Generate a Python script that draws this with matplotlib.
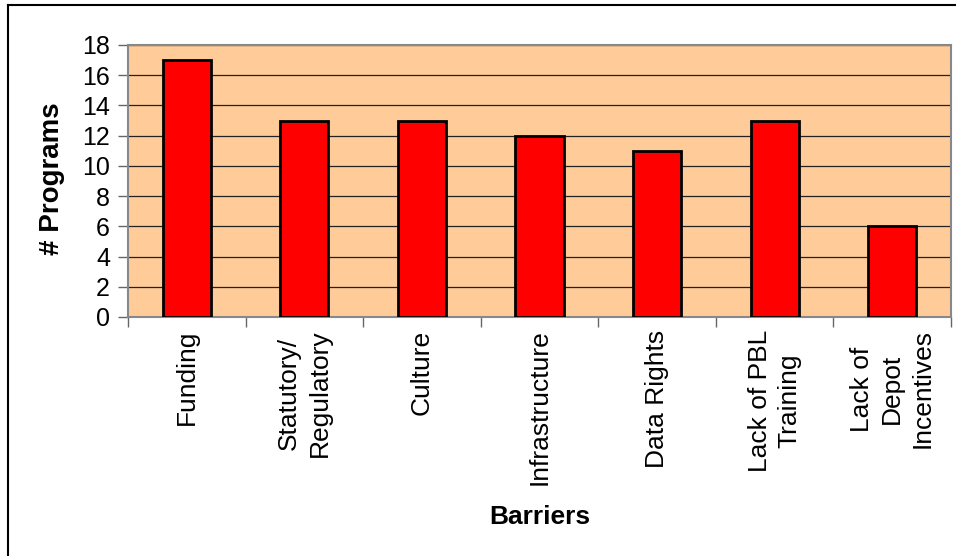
import matplotlib
matplotlib.use('Agg')
import matplotlib.pyplot as plt
from matplotlib.lines import Line2D
import numpy as np

plt.rcParams['font.family'] = ['Liberation Sans', 'DejaVu Sans']

# data
barriers = ['Funding', 'Statutory/\nRegulatory', 'Culture', 'Infrastructure',
            'Data Rights', 'Lack of PBL\nTraining', 'Lack of\nDepot\nIncentives']
programs = [17, 13, 13, 12, 11, 13, 6]
y_ticks = [0, 2, 4, 6, 8, 10, 12, 14, 16, 18]

fig = plt.figure(figsize=(9.56, 5.56), dpi=100)
ax = fig.add_axes([128 / 956, 1 - 317 / 556, (951 - 128) / 956, (317 - 45) / 556])

ax.set_facecolor('#FFCC99')
x = np.arange(len(barriers))
ax.bar(x, programs, width=0.41, color='#FF0000', edgecolor='black', linewidth=2, zorder=3)

ax.set_xlim(-0.5, len(barriers) - 0.5)
ax.set_ylim(0, 18)
ax.set_yticks(y_ticks)
ax.yaxis.grid(True, color='#222222', linewidth=0.9, zorder=1)
ax.set_axisbelow(True)

# category labels centred, tick marks at the boundaries
ax.set_xticks(x)
ax.set_xticklabels(barriers, rotation=90, ha='center', va='top', multialignment='center',
                   fontsize=19, linespacing=1.33)
ax.tick_params(axis='x', which='major', length=0, pad=9)
ax.set_xticks(np.arange(-0.5, len(barriers)), minor=True)
ax.tick_params(axis='x', which='minor', length=7, width=1, color='#666666', direction='out')
ax.tick_params(axis='y', length=7, width=1, color='#666666', labelsize=18, pad=6)

for s in ax.spines.values():
    s.set_color('#888888')
    s.set_linewidth(1.5)

ax.set_ylabel('# Programs', fontsize=20, fontweight='bold', va='center')
ax.yaxis.set_label_coords(-0.092, 0.51)
ax.set_xlabel('Barriers', fontsize=19, fontweight='bold')
ax.xaxis.set_label_coords(0.5, -0.69)

# outer chart border (only top and left visible)
fig.add_artist(Line2D([8 / 956, 8 / 956], [0, 1 - 5 / 556], transform=fig.transFigure, color='black', linewidth=1.5))
fig.add_artist(Line2D([8 / 956, 1], [1 - 5 / 556, 1 - 5 / 556], transform=fig.transFigure, color='black', linewidth=1.5))

plt.savefig('out.png', dpi=100)
